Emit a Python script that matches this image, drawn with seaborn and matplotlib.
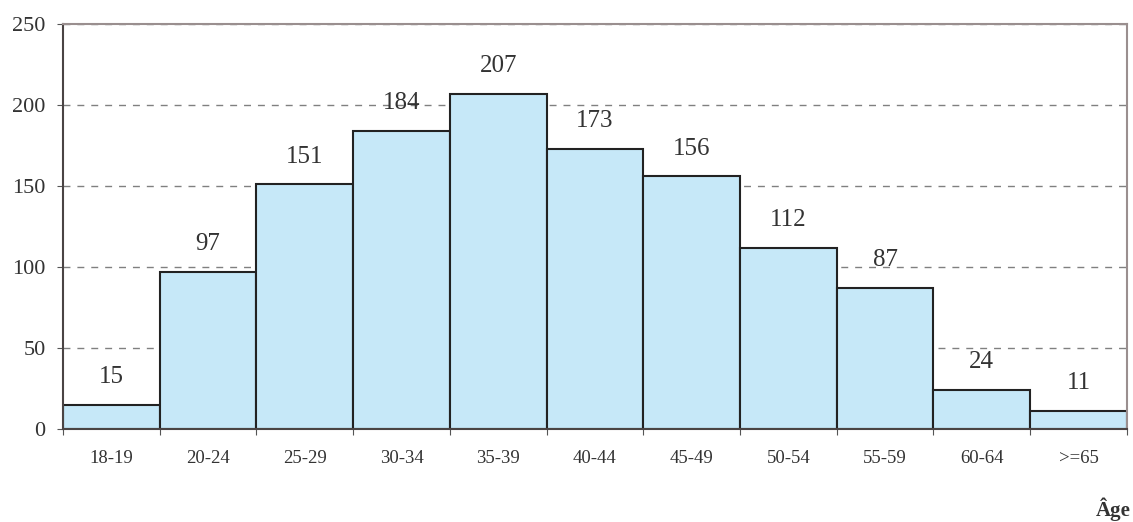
import numpy as np
import pandas as pd
import matplotlib.pyplot as plt
import seaborn as sns

ages = ['18-19', '20-24', '25-29', '30-34', '35-39', '40-44',
        '45-49', '50-54', '55-59', '60-64', '>=65']
counts = [15, 97, 151, 184, 207, 173, 156, 112, 87, 24, 11]

df = pd.DataFrame({'Age': ages, 'Count': counts})

sns.set_style('white')
plt.rcParams['font.family'] = ['Liberation Serif', 'DejaVu Serif']

fig = plt.figure(figsize=(11.33, 5.22), dpi=100)
ax = fig.add_axes([0.0556, 0.178, 0.939, 0.776])

sns.barplot(data=df, x='Age', y='Count', width=1, color='#C6E8F8',
            saturation=1, edgecolor='#222222', linewidth=1.5, ax=ax, zorder=2)

ax.set_xlim(-0.5, len(ages) - 0.5)
ax.set_ylim(0, 250)
ax.set_yticks([0, 50, 100, 150, 200, 250])
ax.yaxis.grid(True, linestyle=(0, (5, 5)), color='#808080', linewidth=1, zorder=0)
ax.set_axisbelow(True)

# ticks sit on the bar boundaries, labels in the middle
ax.set_xticks(np.arange(-0.5, len(ages)), minor=False)
ax.set_xticklabels([])
ax.set_xticks(np.arange(len(ages)), minor=True)
ax.set_xticklabels(ages, minor=True, fontsize=13.5, color='#333333')
ax.tick_params(axis='x', which='minor', length=0, pad=15)
ax.tick_params(axis='x', which='major', direction='out', length=4.5, color='#555555', bottom=True)
ax.tick_params(axis='y', direction='out', length=4.5, color='#555555', left=True,
               labelsize=16, labelcolor='#333333', pad=8)

for s in ['top', 'right']:
    ax.spines[s].set_color('#9a8f8f')
    ax.spines[s].set_linewidth(1.5)
for s in ['left', 'bottom']:
    ax.spines[s].set_color('#4a4444')
    ax.spines[s].set_linewidth(1.5)

for i, v in enumerate(counts):
    ax.annotate(str(v), (i, v), xytext=(0, 20), textcoords='offset points',
                ha='center', va='center', fontsize=18, color='#333333')

ax.set_xlabel('')
ax.set_ylabel('')
fig.text(0.998, 0.012, 'Âge', ha='right', va='baseline', fontsize=15,
         fontweight='bold', color='#333333')

fig.savefig('out.png', dpi=100)
